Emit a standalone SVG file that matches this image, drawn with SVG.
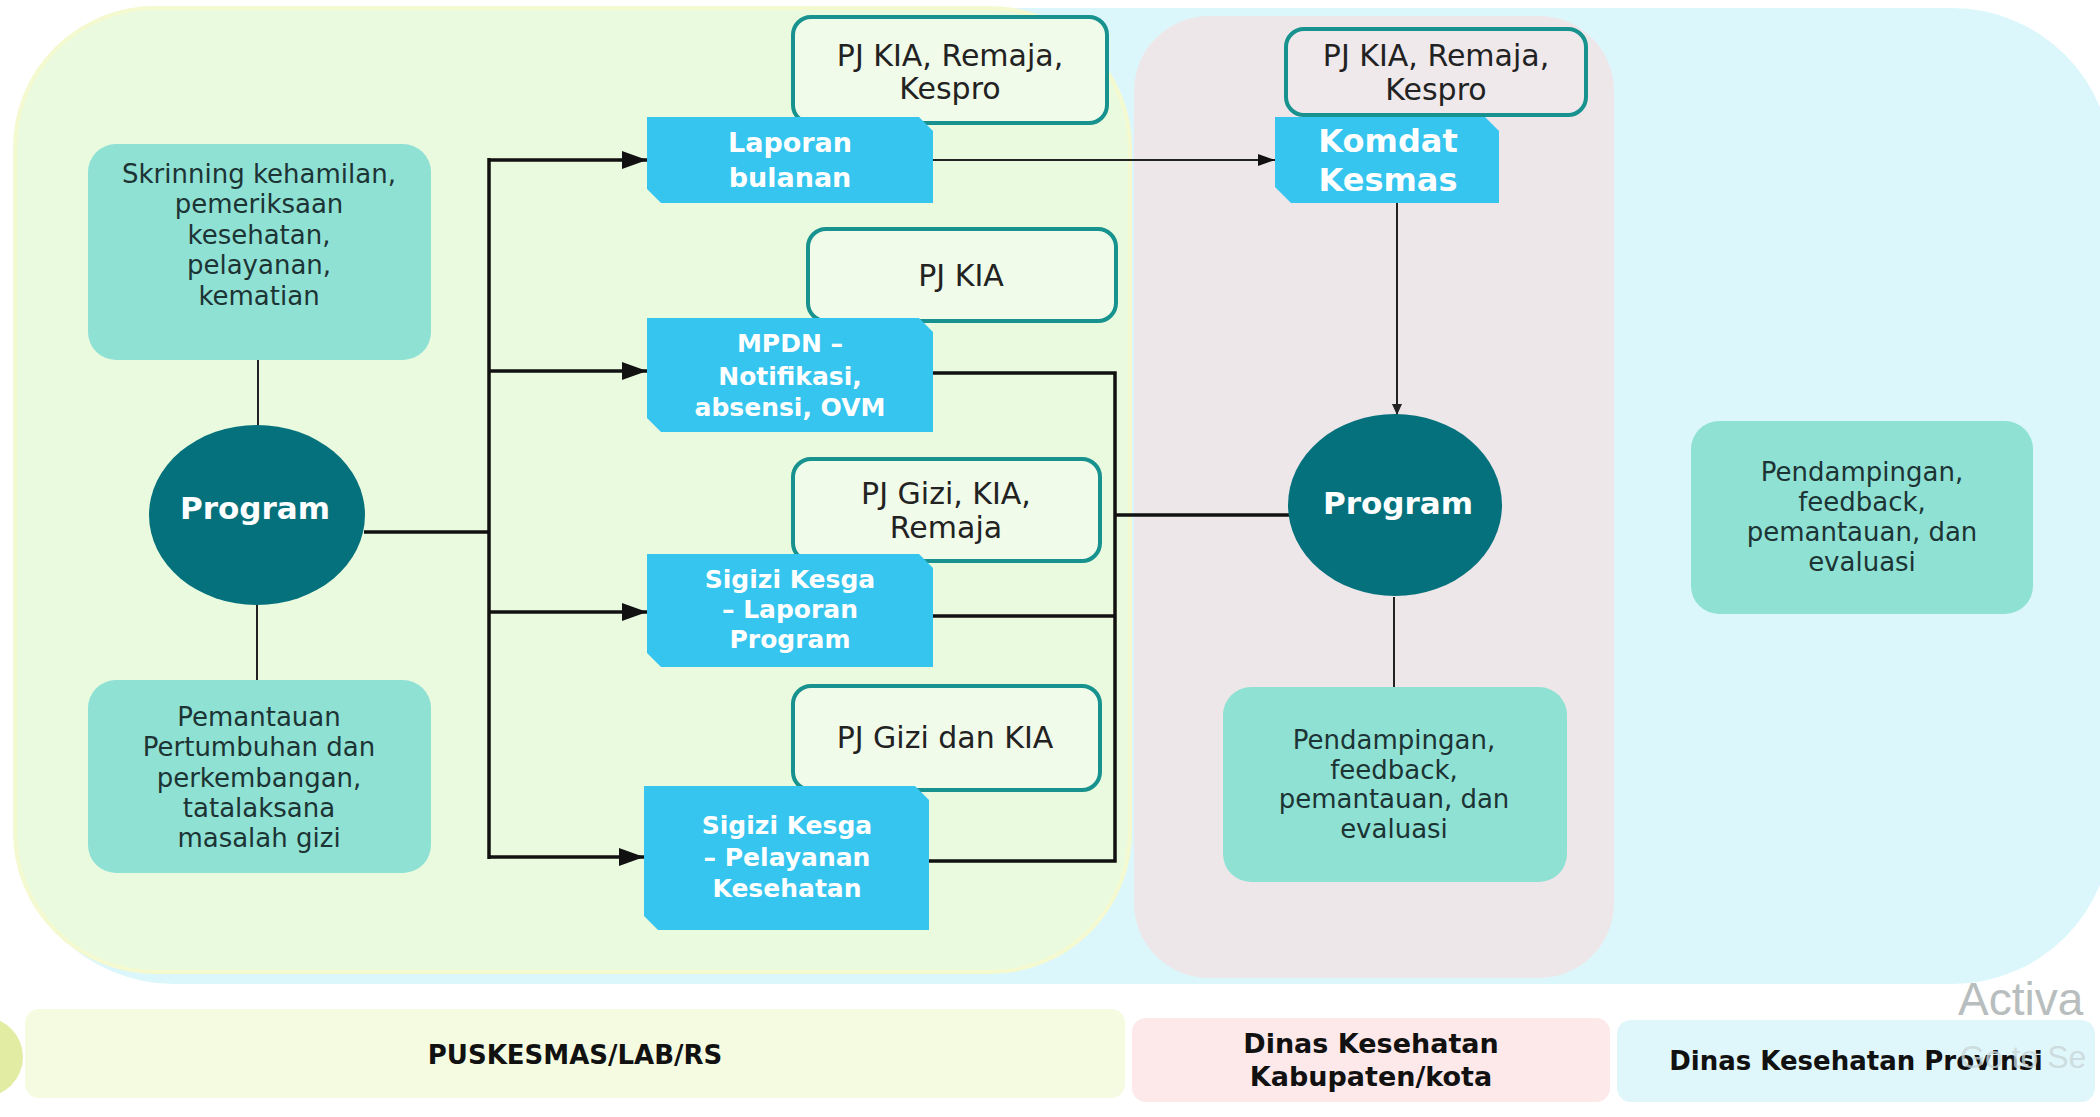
<svg xmlns="http://www.w3.org/2000/svg" width="2100" height="1117" viewBox="0 0 2100 1117">
<defs>
<style>
.mint{fill:#8fe1d4;}
.mtxt{font-family:"DejaVu Sans",sans-serif;font-size:26px;fill:#1d3434;text-anchor:middle;}
.blue{fill:#36c5ee;}
.btxt{font-family:"DejaVu Sans",sans-serif;font-weight:bold;font-size:25px;fill:#ffffff;text-anchor:middle;}
.pj{stroke:#17928e;stroke-width:4;}
.pjtxt{font-family:"DejaVu Sans",sans-serif;font-size:30px;fill:#222222;text-anchor:middle;}
.circ{fill:#05717c;}
.ctxt{font-family:"DejaVu Sans",sans-serif;font-weight:bold;font-size:31px;fill:#ffffff;text-anchor:middle;}
.thick{stroke:#111111;stroke-width:3.5;fill:none;}
.thin{stroke:#222222;stroke-width:2;fill:none;}
.bar{font-family:"DejaVu Sans",sans-serif;font-weight:bold;font-size:26px;fill:#111111;text-anchor:middle;}
</style>
<marker id="ah" markerUnits="userSpaceOnUse" markerWidth="26" markerHeight="20" refX="25" refY="10" orient="auto">
<path d="M0,1 L25,10 L0,19 Z" fill="#111111"/>
</marker>
<marker id="ahs" markerUnits="userSpaceOnUse" markerWidth="18" markerHeight="14" refX="17" refY="7" orient="auto">
<path d="M0,1 L17,7 L0,13 Z" fill="#111111"/>
</marker>
<marker id="aht" markerUnits="userSpaceOnUse" markerWidth="12" markerHeight="10" refX="11" refY="5" orient="auto">
<path d="M0,0 L11,5 L0,10 Z" fill="#222222"/>
</marker>
</defs>
<rect x="0" y="0" width="2100" height="1117" fill="#ffffff"/>
<g id="regions">
<rect x="14" y="8" width="2098" height="976" rx="160" fill="#dcf7fb"/>
<rect x="15" y="8" width="1115" height="964" rx="140" fill="#eafadf" stroke="#f4f9cf" stroke-width="4"/>
<rect x="1134" y="16" width="480" height="962" rx="75" fill="#ede7ea"/>
</g>
<g id="bars">
<circle cx="-17" cy="1057" r="40" fill="#e3eca3"/>
<rect x="25" y="1009" width="1100" height="89" rx="14" fill="#f5fbe1"/>
<rect x="1132" y="1018" width="478" height="84" rx="14" fill="#fde9ea"/>
<rect x="1617" y="1020" width="478" height="82" rx="14" fill="#dff6fa"/>
<text class="bar" x="575" y="1064">PUSKESMAS/LAB/RS</text>
<text class="bar" x="1371" y="1053" style="font-size:27px">Dinas Kesehatan</text>
<text class="bar" x="1371" y="1086" style="font-size:27px">Kabupaten/kota</text>
<text class="bar" x="1856" y="1070">Dinas Kesehatan Provinsi</text>
</g>
<g id="connectors">
<line class="thin" x1="258" y1="360" x2="258" y2="426"/>
<line class="thin" x1="257" y1="605" x2="257" y2="680"/>
<polyline class="thick" points="364,532 489,532"/>
<line class="thick" x1="489" y1="158" x2="489" y2="859"/>
<line class="thick" x1="489" y1="160" x2="647" y2="160" marker-end="url(#ah)"/>
<line class="thick" x1="489" y1="371" x2="647" y2="371" marker-end="url(#ah)"/>
<line class="thick" x1="489" y1="612" x2="647" y2="612" marker-end="url(#ah)"/>
<line class="thick" x1="489" y1="857" x2="644" y2="857" marker-end="url(#ah)"/>
<polyline class="thick" points="933,373 1115,373 1115,861 929,861"/>
<line class="thick" x1="933" y1="616" x2="1115" y2="616"/>
<line class="thick" x1="1115" y1="515" x2="1289" y2="515"/>
<line class="thin" x1="933" y1="160" x2="1275" y2="160" marker-end="url(#ahs)"/>
<line class="thin" x1="1397" y1="203" x2="1397" y2="415" marker-end="url(#aht)"/>
<line class="thin" x1="1394" y1="597" x2="1394" y2="688"/>
</g>
<g id="skrinning">
<rect class="mint" x="88" y="144" width="343" height="216" rx="28"/>
<text class="mtxt" x="259" y="183">Skrinning kehamilan,</text>
<text class="mtxt" x="259" y="213.4">pemeriksaan</text>
<text class="mtxt" x="259" y="243.8">kesehatan,</text>
<text class="mtxt" x="259" y="274.2">pelayanan,</text>
<text class="mtxt" x="259" y="304.6">kematian</text>
</g>
<g id="program-left">
<ellipse class="circ" cx="257" cy="515" rx="108" ry="90"/>
<text class="ctxt" x="255" y="519">Program</text>
</g>
<g id="pemantauan">
<rect class="mint" x="88" y="680" width="343" height="193" rx="28"/>
<text class="mtxt" x="259" y="726">Pemantauan</text>
<text class="mtxt" x="259" y="756.3">Pertumbuhan dan</text>
<text class="mtxt" x="259" y="786.6">perkembangan,</text>
<text class="mtxt" x="259" y="816.9">tatalaksana</text>
<text class="mtxt" x="259" y="847">masalah gizi</text>
</g>
<g id="pj-1">
<rect class="pj" x="793" y="17" width="314" height="106" rx="18" fill="#f0fbe9"/>
<text class="pjtxt" x="950" y="66">PJ KIA, Remaja,</text>
<text class="pjtxt" x="950" y="99">Kespro</text>
</g>
<g id="laporan-bulanan">
<path class="blue" d="M647,117 H919 L933,131 V203 H661 L647,189 Z"/>
<text class="btxt" x="790" y="152" style="font-size:27px">Laporan</text>
<text class="btxt" x="790" y="187" style="font-size:27px">bulanan</text>
</g>
<g id="pj-2">
<rect class="pj" x="808" y="229" width="308" height="92" rx="18" fill="#f0fbe9"/>
<text class="pjtxt" x="961" y="286">PJ KIA</text>
</g>
<g id="mpdn">
<path class="blue" d="M647,318 H919 L933,332 V432 H661 L647,418 Z"/>
<text class="btxt" x="790" y="352">MPDN –</text>
<text class="btxt" x="790" y="385">Notifikasi,</text>
<text class="btxt" x="790" y="416">absensi, OVM</text>
</g>
<g id="pj-3">
<rect class="pj" x="793" y="459" width="307" height="102" rx="18" fill="#f0fbe9"/>
<text class="pjtxt" x="946" y="504">PJ Gizi, KIA,</text>
<text class="pjtxt" x="946" y="538">Remaja</text>
</g>
<g id="sigizi-laporan">
<path class="blue" d="M647,554 H919 L933,568 V667 H661 L647,653 Z"/>
<text class="btxt" x="790" y="588">Sigizi Kesga</text>
<text class="btxt" x="790" y="618">– Laporan</text>
<text class="btxt" x="790" y="648">Program</text>
</g>
<g id="pj-4">
<rect class="pj" x="793" y="686" width="307" height="104" rx="18" fill="#f0fbe9"/>
<text class="pjtxt" x="945" y="748">PJ Gizi dan KIA</text>
</g>
<g id="sigizi-pelayanan">
<path class="blue" d="M644,786 H915 L929,800 V930 H658 L644,916 Z"/>
<text class="btxt" x="787" y="834">Sigizi Kesga</text>
<text class="btxt" x="787" y="866">– Pelayanan</text>
<text class="btxt" x="787" y="897">Kesehatan</text>
</g>
<g id="pj-5">
<rect class="pj" x="1286" y="29" width="300" height="86" rx="18" fill="#efe9eb"/>
<text class="pjtxt" x="1436" y="66">PJ KIA, Remaja,</text>
<text class="pjtxt" x="1436" y="100">Kespro</text>
</g>
<g id="komdat">
<path class="blue" d="M1275,117 H1485 L1499,131 V203 H1291 L1275,187 Z"/>
<text class="btxt" x="1388" y="152" style="font-size:32px">Komdat</text>
<text class="btxt" x="1388" y="191" style="font-size:32px">Kesmas</text>
</g>
<g id="program-right">
<ellipse class="circ" cx="1395" cy="505" rx="107" ry="91"/>
<text class="ctxt" x="1398" y="514">Program</text>
</g>
<g id="pendampingan-kab">
<rect class="mint" x="1223" y="687" width="344" height="195" rx="28"/>
<text class="mtxt" x="1394" y="749">Pendampingan,</text>
<text class="mtxt" x="1394" y="779">feedback,</text>
<text class="mtxt" x="1394" y="808">pemantauan, dan</text>
<text class="mtxt" x="1394" y="838">evaluasi</text>
</g>
<g id="pendampingan-prov">
<rect class="mint" x="1691" y="421" width="342" height="193" rx="28"/>
<text class="mtxt" x="1862" y="481">Pendampingan,</text>
<text class="mtxt" x="1862" y="511">feedback,</text>
<text class="mtxt" x="1862" y="541">pemantauan, dan</text>
<text class="mtxt" x="1862" y="571">evaluasi</text>
</g>
<g id="watermark" font-family="'Liberation Sans',sans-serif">
<text x="1958" y="1015" font-size="46" fill="#b8bdbe">Activa</text>
<text x="1960" y="1068" font-size="32" fill="#c9d6d8" fill-opacity="0.8">Go to Se</text>
</g>
</svg>
